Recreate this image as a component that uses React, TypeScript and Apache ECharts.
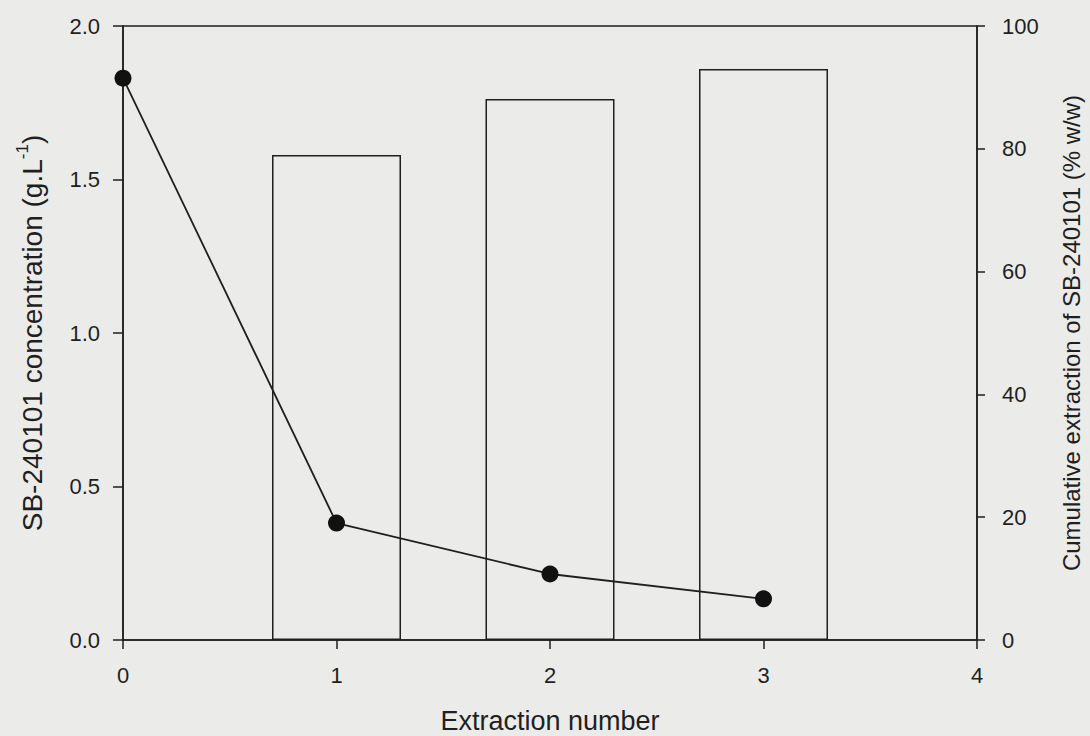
import React, { useEffect, useRef } from "react";
import * as echarts from "echarts";

const extractionNumbers = [0, 1, 2, 3];
const concentration = [1.83, 0.381, 0.215, 0.134];
const barExtractions = [1, 2, 3];
const cumulativeExtraction = [79.0, 88.1, 93.0];
const leftTitle = "SB-240101 concentration ";
const rightTitle = "Cumulative extraction of SB-240101 (% w/w)";
const xTitle = "Extraction number";

const INK = "#1f1f1f";
const FONT = "'Liberation Sans', Arial, sans-serif";

export default function App() {
  const ref = useRef<HTMLDivElement>(null);
  useEffect(() => {
    if (!ref.current) return;
    const chart = echarts.init(ref.current, undefined, { renderer: "svg" });
    const lineData = extractionNumbers.map((x, i) => [x, concentration[i]]);
    const barData = barExtractions.map((x, i) => [x, cumulativeExtraction[i]]);
    chart.setOption({
      animation: false,
      backgroundColor: "#ebebea",
      textStyle: { fontFamily: FONT, color: INK },
      grid: {
        left: 123,
        right: 113,
        top: 26,
        bottom: 96,
        outerBoundsMode: "none",
        containLabel: false,
        show: true,
        borderColor: INK,
        borderWidth: 1.5,
        backgroundColor: "transparent",
      },
      xAxis: [
        {
          type: "value",
          min: 0,
          max: 4,
          interval: 1,
          splitLine: { show: false },
          axisLine: { show: true, onZero: false, lineStyle: { color: INK, width: 1.5 } },
          axisTick: { show: true, inside: false, length: 9, lineStyle: { color: INK, width: 1.5 } },
          axisLabel: { color: INK, fontSize: 22, fontFamily: FONT, margin: 24 },
          name: xTitle,
          nameLocation: "middle",
          nameGap: 67,
          nameTextStyle: { fontSize: 27, color: INK, fontFamily: FONT, verticalAlign: "top" },
        },
      ],
      yAxis: [
        {
          type: "value",
          position: "left",
          min: 0,
          max: 2,
          interval: 0.5,
          splitLine: { show: false },
          axisLine: { show: true, lineStyle: { color: INK, width: 1.5 } },
          axisTick: { show: true, inside: false, length: 10, lineStyle: { color: INK, width: 1.5 } },
          axisLabel: {
            color: INK,
            fontSize: 22,
            fontFamily: FONT,
            margin: 23,
            formatter: (v: number) => v.toFixed(1),
          },
          name: "{n|" + leftTitle + "(g.L}{s|-1}{n|)}",
          nameLocation: "middle",
          nameRotate: 90,
          nameGap: 77,
          nameTextStyle: {
            color: INK,
            fontFamily: FONT,
            rich: {
              n: { fontSize: 28, color: INK, fontFamily: FONT, verticalAlign: "bottom", lineHeight: 32 },
              s: { fontSize: 17, color: INK, fontFamily: FONT, verticalAlign: "top", lineHeight: 32, padding: [0, 0, 14, 0] },
            },
          },
        },
        {
          type: "value",
          position: "right",
          min: 0,
          max: 100,
          interval: 20,
          splitLine: { show: false },
          axisLine: { show: true, lineStyle: { color: INK, width: 1.5 } },
          axisTick: { show: true, inside: false, length: 8, lineStyle: { color: INK, width: 1.5 } },
          axisLabel: { color: INK, fontSize: 22, fontFamily: FONT, margin: 25 },
          name: rightTitle,
          nameLocation: "middle",
          nameRotate: 90,
          nameGap: 82,
          nameTextStyle: { fontSize: 24, color: INK, fontFamily: FONT },
        },
      ],
      series: [
        {
          type: "bar",
          xAxisIndex: 0,
          yAxisIndex: 1,
          data: barData,
          barWidth: 129,
          itemStyle: { color: "transparent", borderColor: INK, borderWidth: 1.5 },
          z: 1,
        },
        {
          type: "line",
          xAxisIndex: 0,
          yAxisIndex: 0,
          data: lineData,
          clip: false,
          symbol: "circle",
          symbolSize: 17,
          lineStyle: { color: INK, width: 1.8 },
          itemStyle: { color: "#111" },
          z: 3,
        },
      ],
    });
    return () => chart.dispose();
  }, []);
  return (
    <div
      ref={ref}
      style={{ position: "fixed", left: 0, top: 0, width: 1090, height: 736 }}
    />
  );
}
